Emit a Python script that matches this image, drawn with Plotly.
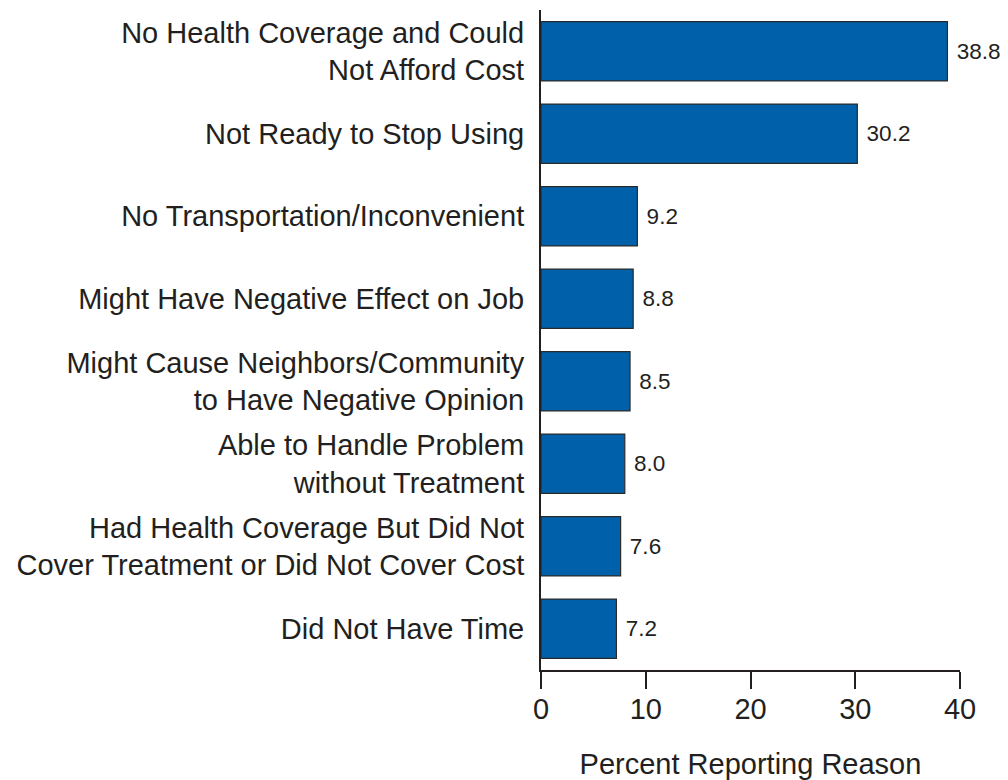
import plotly.graph_objects as go

reasons = [
    "No Health Coverage and Could<br>Not Afford Cost",
    "Not Ready to Stop Using",
    "No Transportation/Inconvenient",
    "Might Have Negative Effect on Job",
    "Might Cause Neighbors/Community<br>to Have Negative Opinion",
    "Able to Handle Problem<br>without Treatment",
    "Had Health Coverage But Did Not<br>Cover Treatment or Did Not Cover Cost",
    "Did Not Have Time",
]
percents = [38.8, 30.2, 9.2, 8.8, 8.5, 8.0, 7.6, 7.2]
x_ticks = [0, 10, 20, 30, 40]

ink = "#231f20"
font = "Liberation Sans, Arial, sans-serif"

fig = go.Figure()
fig.add_trace(
    go.Bar(
        x=percents,
        y=reasons,
        orientation="h",
        marker=dict(color="#0060a9", line=dict(color="#2b2b2b", width=1.2)),
        # nbsp pushes the value a little further off the bar end
        text=["\u00a0" + f"{v:.1f}" for v in percents],
        textposition="outside",
        textfont=dict(size=22.5, color=ink, family=font),
        cliponaxis=False,
        hoverinfo="x+y",
    )
)

# page body has an 8px margin, so the figure is shrunk to fit the window
fig.update_layout(
    width=1000,
    height=772,
    margin=dict(l=533, r=48, t=2, b=110),
    plot_bgcolor="white",
    paper_bgcolor="white",
    bargap=0.28,
    showlegend=False,
    font=dict(family=font, color=ink),
    xaxis=dict(
        range=[0, 40],
        tickvals=x_ticks,
        ticks="outside",
        ticklen=17,
        tickwidth=2,
        tickcolor=ink,
        showline=True,
        linewidth=2,
        linecolor=ink,
        showgrid=False,
        zeroline=False,
        tickfont=dict(size=29, color=ink),
        ticklabelstandoff=-5,
        title=dict(text="Percent Reporting Reason", font=dict(size=29, color=ink), standoff=47),
        automargin=False,
    ),
    yaxis=dict(
        categoryorder="array",
        categoryarray=reasons,
        autorange="reversed",
        showline=True,
        linewidth=2,
        linecolor=ink,
        showgrid=False,
        ticks="",
        tickfont=dict(size=29, color=ink),
        ticklabelstandoff=9,
        automargin=False,
    ),
)

fig.write_html("out.html")
